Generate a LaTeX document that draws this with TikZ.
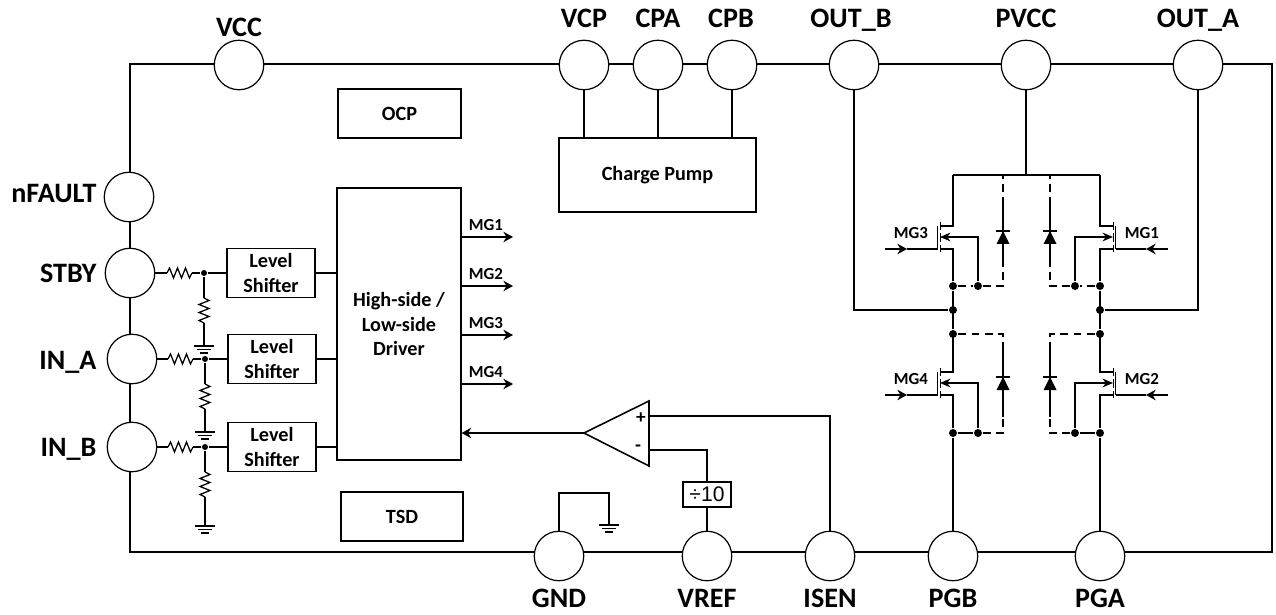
\documentclass[tikz,border=0pt]{standalone}
\usepackage{fontspec}
\setmainfont{Carlito}
\newfontfamily\arialfont{Liberation Sans}
\usetikzlibrary{arrows.meta,positioning,calc}
\tikzset{
 pad/.style={draw,circle,fill=white,minimum size=.99cm,inner sep=0pt,line width=.7pt},
 lab/.style={font=\fontsize{16}{18}\selectfont\bfseries,inner sep=0pt},
 mg/.style={font=\fontsize{9.6}{11}\selectfont\bfseries,inner sep=0pt},
 c/.style={draw,line width=.7pt,align=center,inner sep=0pt,font=\fontsize{11.5}{14}\selectfont\bfseries},
 ls/.style={c,minimum width=1.76cm,minimum height=.98cm},
 dot/.style={circle,fill,inner sep=0pt,minimum size=.16cm},
 sdot/.style={circle,fill,inner sep=0pt,minimum size=.12cm},
 dsh/.style={dash pattern=on 4.5pt off 3pt},
 tip/.style={-{Stealth[length=5.5pt,width=6pt]}},
 res/.pic={\draw (0,0)--(2.5,-5)--(6.5,5)--(10.5,-5)--(14.5,5)--(18.5,-5)--(22.5,5)--(25,0);},
 gnd/.pic={\draw (-10,0)--(10,0) (-7,3.5)--(7,3.5) (-4,7)--(4,7);}
}
\begin{document}
\begin{tikzpicture}[x=.02cm,y=-.02cm,line width=.7pt]
\useasboundingbox (0,0) rectangle (1276,615);
\draw[line width=1pt] (130,64) rectangle (1272,552);
% pads round the frame
\foreach \n/\x/\y in {vcc/239/65,vcp/584/65,cpa/658/65,cpb/732/65,outb/854/65,pvcc/1026/65,outa/1198/65,
 nfault/129/197,stby/130/273,ina/132/359,inb/132/447,
 gnd/559/556,vref/707/556,isen/830/556,pgb/953/556,pga/1100/556}
 \node[pad](\n) at (\x,\y) {};
\foreach \n/\x/\y/\t in {lvcc/239/37/VCC,lvcp/584/28/VCP,lcpa/658/28/CPA,lcpb/731/28/CPB,loutb/851/28/OUT\_B,lpvcc/1026/28/PVCC,loutao/1198/28/OUT\_A,
 lgnd/559/607/GND,lvref/707/607/VREF,lisen/830/607/ISEN,lpgb/953/607/PGB,lpga/1100/607/PGA}
 \node[lab,anchor=base](\n) at (\x,\y) {\t};
\foreach \n/\y/\t in {lnfault/203/nFAULT,lstby/282/STBY,lina/369/IN\_A,linb/456/IN\_B}
 \node[lab,anchor=base east](\n) at (97,\y) {\t};
% blocks
\node[c,minimum width=2.46cm,minimum height=.98cm](ocp) at (399.5,113.5){OCP};
\node[c,minimum width=2.44cm,minimum height=.98cm](tsd) at (402,516.5){TSD};
\node[c,minimum width=3.94cm,minimum height=1.48cm](cp) at (657.5,175){Charge Pump};
\node[c,minimum width=2.48cm,minimum height=5.44cm](drv) at (399,324){High-side /\\Low-side\\Driver};
\draw (vcp)--(vcp|-cp.north);\draw (cpa)--(cpa|-cp.north);\draw (cpb)--(cpb|-cp.north);
% input rows
\foreach \n/\p/\x/\g in {stby/273/204/346,ina/359/205/432,inb/447/205/526}{
 \node[ls](ls\n) at (\x+67,\p){Level\\Shifter};
 \node[sdot](j\n) at (\x,\p){};
 \coordinate (g\n) at (\x,\g);
 \draw (\n.east)--(\x-37,\p) pic{res} (\x-12,\p)--(j\n)--(ls\n.west);
 \draw (j\n)--(\x,\p+25) pic[rotate=-90]{res} (\x,\p+50)--(g\n) pic{gnd};
 \draw (ls\n.east)--(drv.west|-ls\n.east);
}
% driver outputs
\foreach \n/\y in {1/237,2/286,3/335,4/384}{
 \coordinate (o\n) at (513,\y);
 \draw[tip] (drv.east|-o\n)--(o\n);
 \node[mg](lo\n) at (486,\y-12){MG\n};
}
% comparator
\coordinate (ao) at (584,433);\coordinate (ap) at (649,416);\coordinate (am) at (649,450);
\draw[line width=.9pt] (ao)--(649,401)--(649,466)--cycle;
\node[mg,font=\fontsize{11}{12}\selectfont\bfseries](plus) at (641,418){+};
\node[mg,font=\fontsize{11}{12}\selectfont\bfseries](minus) at (638,448){-};
\node[draw,line width=.7pt,inner sep=0pt,minimum width=.96cm,minimum height=.5cm,font=\arialfont\fontsize{12}{13}\selectfont](dv) at (707,494.5){÷10};
\draw[tip] (ao)--(drv.east|-ao);
\draw (ap)-|(isen.north);
\draw (am)-|(dv.north);\draw (dv.south)--(vref.north);
\coordinate (gg) at (609,525);
\draw (gnd.north)|-(gg|-0,493)--(gg) pic{gnd};
% bridge
\coordinate (rl) at (953,175);\coordinate (rr) at (1100,175);
\draw (rl)--(rr);\draw (pvcc.south)--(pvcc|-rl);
\foreach \n/\x/\s/\p/\r/\u/\v/\e/\st in {3/953/1/0/175/205/263/286/dsh,1/1100/-1/0/175/205/263/286/dsh,
 4/953/1/146/334/350/417/433/solid,2/1100/-1/146/334/350/417/433/solid}{
 \begin{scope}[shift={(\x,0)},xscale=\s]
 \node[dot](s\n) at (0,\e){};\node[dot](b\n) at (25,\e){};
 \draw (0,\r)--(0,226+\p)--(-13,226+\p);
 \draw (s\n)--(0,249+\p)--(-13,249+\p);
 \draw[line width=.5pt] (-13,222+\p)--(-13,230+\p) (-13,233+\p)--(-13,242+\p) (-13,245+\p)--(-13,252+\p);
 \draw[line width=.5pt] (-15.5,226+\p)--(-15.5,249+\p);
 \draw[-{Stealth[length=6pt,width=5pt]}] (b\n)--(25,237+\p)--(-13,237+\p);
 \coordinate (g\n) at (-68,249+\p);
 \draw[tip] (g\n)--(-46,249+\p);\draw (-46,249+\p)--(-15.5,249+\p);
 \node[mg](lg\n) at (-42,233+\p){MG\n};
 \draw[\st] (s\n)--(b\n);
 \draw[dsh] (b\n)--(50,\e)--(50,\v);
 \draw (50,\v)--(50,\u);
 \draw[dsh] (50,\u)--(50,\r)--(0,\r);
 \fill (50,231+\p)--(43.5,244+\p)--(56.5,244+\p)--cycle;
 \draw (43,231+\p)--(57,231+\p);
 \end{scope}
}
\node[dot](t4) at (953,334){};\node[dot](t2) at (1100,334){};
\node[dot](jb) at (953,310){};\node[dot](ja) at (1100,310){};
\draw (s3)--(t4);\draw (s1)--(t2);
\draw (outb.south)|-(jb);\draw (outa.south)|-(ja);
\draw (s4)--(pgb.north);\draw (s2)--(pga.north);
\end{tikzpicture}
\end{document}
